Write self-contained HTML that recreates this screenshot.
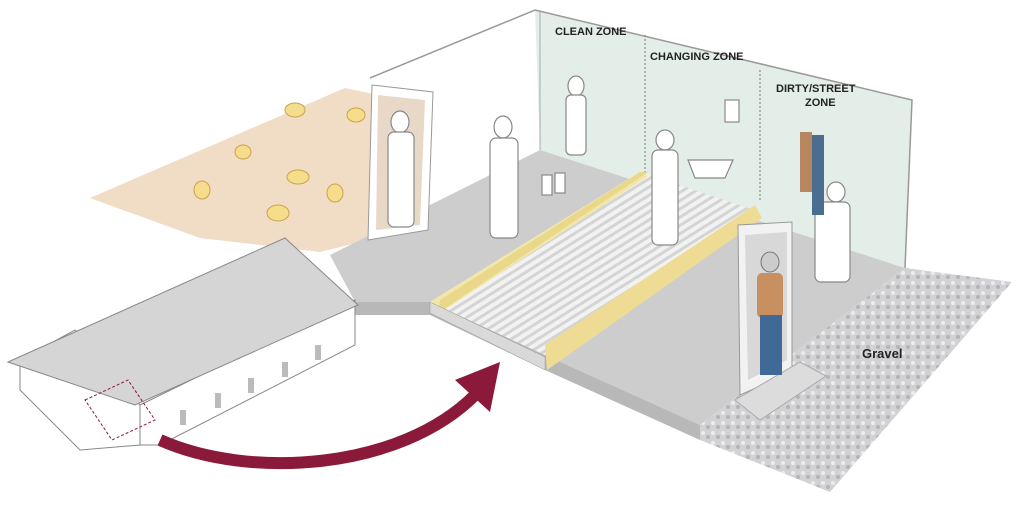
<!DOCTYPE html>
<html><head><meta charset="utf-8"><style>
html,body{margin:0;padding:0;background:#fff;width:1017px;height:506px;overflow:hidden}
text{font-family:"Liberation Sans",sans-serif;font-weight:bold}
</style></head><body>
<svg width="1017" height="506" viewBox="0 0 1017 506" xmlns="http://www.w3.org/2000/svg">
<defs>
<pattern id="grate" width="7" height="7" patternUnits="userSpaceOnUse" patternTransform="rotate(-32)">
<rect width="7" height="7" fill="#d4d4d4"/><rect width="7" height="4" fill="#f2f2f2"/></pattern>
<pattern id="grav" width="10" height="10" patternUnits="userSpaceOnUse">
<rect width="10" height="10" fill="#d2d2d4"/><circle cx="3" cy="3" r="2" fill="#ececee"/><circle cx="8" cy="7" r="2" fill="#b4b4b8"/></pattern>
</defs>
<polygon points="90,198 345,88 378,95 368,240 320,252 200,238" fill="#f1dcc6"/>
<polygon points="535,10 912,100 905,268 540,150" fill="#e3eee8"/>
<polyline points="370,78 535,10 912,100 905,268" fill="none" stroke="#999" stroke-width="1.5"/>
<line x1="540" y1="10" x2="540" y2="150" stroke="#aaa"/>
<line x1="645" y1="35" x2="645" y2="190" stroke="#777" stroke-dasharray="2,2"/>
<line x1="760" y1="70" x2="760" y2="200" stroke="#777" stroke-dasharray="2,2"/>
<polygon points="700,425 905,268 1012,282 830,492 700,440" fill="url(#grav)"/>
<polygon points="330,255 540,150 905,268 700,425 545,355 430,302 355,302" fill="#cdcdcd"/>
<polygon points="355,302 430,302 545,355 700,425 700,440 545,370 430,315 355,315" fill="#b8b8b8"/>
<polygon points="430,302 640,172 760,212 545,355" fill="url(#grate)"/>
<polygon points="430,302 640,172 648,176 440,313" fill="#f2e6a8"/>
<polygon points="440,300 640,172 648,172 438,313" fill="#e9d88a"/>
<polygon points="545,345 755,205 762,218 547,370" fill="#eedc95"/>
<polygon points="430,313 545,370 545,357 430,302" fill="#d9d9d9" stroke="#999" stroke-width="0.5"/>
<polygon points="372,85 433,92 428,230 368,240" fill="#fff" stroke="#999"/>
<polygon points="378,95 425,100 420,225 376,230" fill="#e8d8c8"/>
<polygon points="738,225 792,222 792,372 740,395" fill="#f2f2f2" stroke="#999"/>
<polygon points="745,235 787,232 787,360 748,380" fill="#d8d8d8"/>
<polygon points="735,400 800,362 826,376 760,420" fill="#dcdcdc" stroke="#aaa"/>
<g fill="#fff" stroke="#888" stroke-width="1.2">
<ellipse cx="400" cy="122" rx="9" ry="11"/><rect x="388" y="132" width="26" height="95" rx="6"/>
<ellipse cx="503" cy="127" rx="9" ry="11"/><rect x="490" y="138" width="28" height="100" rx="6"/>
<ellipse cx="576" cy="86" rx="8" ry="10"/><rect x="566" y="95" width="20" height="60" rx="5"/>
<ellipse cx="665" cy="140" rx="9" ry="10"/><rect x="652" y="150" width="26" height="95" rx="6"/>
<path d="M688 160 h45 l-8 18 h-30z"/><rect x="725" y="100" width="14" height="22"/>
<ellipse cx="836" cy="192" rx="9" ry="10"/><rect x="815" y="202" width="35" height="80" rx="6"/>
<rect x="542" y="175" width="10" height="20"/><rect x="555" y="173" width="10" height="20"/>
</g>
<rect x="800" y="132" width="12" height="60" fill="#b88760"/><rect x="812" y="135" width="12" height="80" fill="#4b6d90"/>
<ellipse cx="770" cy="262" rx="9" ry="10" fill="#ccc" stroke="#777"/>
<rect x="757" y="273" width="26" height="45" rx="5" fill="#c89060"/>
<rect x="760" y="315" width="22" height="60" fill="#3f6a98"/>
<g fill="#f5dd8c" stroke="#c9a34a">
<ellipse cx="295" cy="110" rx="10" ry="7"/><ellipse cx="356" cy="115" rx="9" ry="7"/>
<ellipse cx="243" cy="152" rx="8" ry="7"/><ellipse cx="298" cy="177" rx="11" ry="7"/>
<ellipse cx="202" cy="190" rx="8" ry="9"/><ellipse cx="278" cy="213" rx="11" ry="8"/><ellipse cx="335" cy="193" rx="8" ry="9"/>
</g>
<polygon points="20,360 75,330 140,405 140,445 80,450 20,390" fill="#fff" stroke="#888"/>
<polygon points="140,405 355,300 355,345 160,445 140,445" fill="#fff" stroke="#888"/>
<polygon points="8,362 285,238 358,305 135,405" fill="#d5d5d5" stroke="#888"/>
<g fill="#bbb"><rect x="180" y="410" width="6" height="15"/><rect x="215" y="393" width="6" height="15"/><rect x="248" y="378" width="6" height="15"/><rect x="282" y="362" width="6" height="15"/><rect x="315" y="345" width="6" height="15"/></g>
<polygon points="85,400 128,380 155,420 112,440" fill="none" stroke="#8b1a3a" stroke-dasharray="3,2"/>
<path d="M160,440 C250,480 400,470 475,395" fill="none" stroke="#8b1a3a" stroke-width="12"/>
<polygon points="455,380 500,362 490,412" fill="#8b1a3a"/>
<text x="555" y="35" font-size="11" fill="#222">CLEAN ZONE</text>
<text x="650" y="60" font-size="11" fill="#222">CHANGING ZONE</text>
<text x="776" y="92" font-size="11" fill="#222">DIRTY/STREET</text>
<text x="805" y="106" font-size="11" fill="#222">ZONE</text>
<text x="862" y="358" font-size="13" fill="#222">Gravel</text>
</svg>
</body></html>
